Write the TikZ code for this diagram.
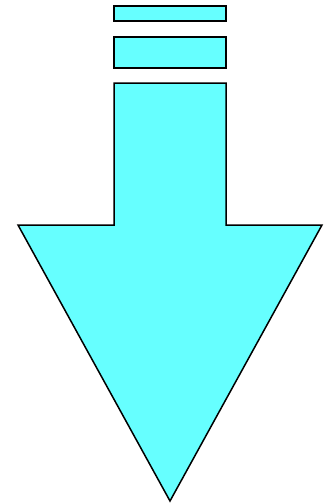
\documentclass[tikz,border=0pt]{standalone}
\usepackage{xcolor}
\definecolor{arrowCyan}{HTML}{66FFFF}
\usepackage{tikz}

\begin{document}
\begin{tikzpicture}[
        x={(1pt,0)}, y={(0,-1pt)},
        arrowPart/.style={
            draw=black,
            fill=arrowCyan,
            line width=1.5pt,
            line join=miter
        }
    ]
    \useasboundingbox (0,0) rectangle (329,503);

    % Stripes above the arrow
    \draw[arrowPart] (114,6) rectangle (226,21);
    \draw[arrowPart] (114,37) rectangle (226,68);

    % Arrow body
    \draw[arrowPart] (114,83) -- (226,83) -- (226,225) -- (322,225)
        -- (170,501) -- (18,225) -- (114,225) -- cycle;
\end{tikzpicture}
\end{document}
